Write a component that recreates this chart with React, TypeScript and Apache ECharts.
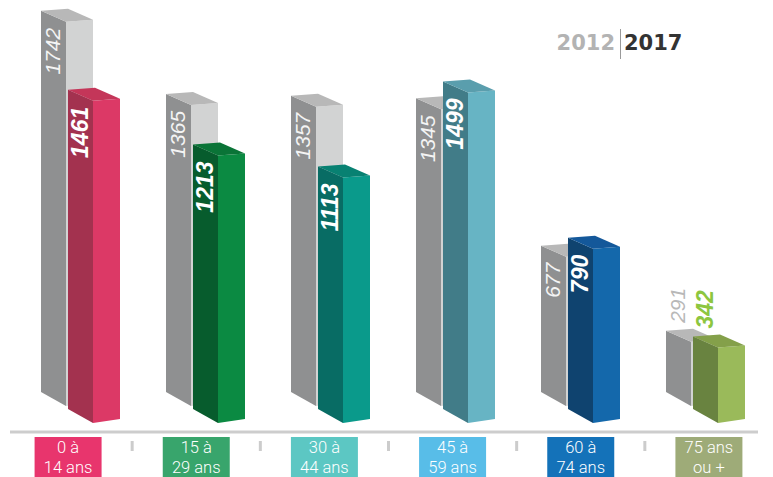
import React, { useEffect, useRef } from "react";
import * as echarts from "echarts";

const categories = ["0 à\n14 ans", "15 à\n29 ans", "30 à\n44 ans", "45 à\n59 ans", "60 à\n74 ans", "75 ans\nou +"];
const values2012 = [1742, 1365, 1357, 1345, 677, 291];
const values2017 = [1461, 1213, 1113, 1499, 790, 342];
const years = ["2012", "2017"];
const boxColors = ["#e8356d", "#38a56c", "#5cc7c3", "#58bde8", "#1472b9", "#9eab78"];
const faceLeft = ["#a3324f", "#075c2d", "#086c64", "#417c88", "#0f436f", "#698340"];
const faceRight = ["#dc3966", "#0b8a42", "#0a9a8b", "#67b4c4", "#1468ab", "#9aba5a"];
const faceTop = ["#c43659", "#0a7437", "#088172", "#5a9ead", "#14589a", "#84a04a"];
const outsideColor = ["#dc3966", "#0b8a42", "#0a9a8b", "#67b4c4", "#1468ab", "#8dc63f"];
const grayFaces = { left: "#8f9091", right: "#d2d3d3", top: "#b8b8b8" };

const W_L = 25, W_R = 27, D_LT = 11, D_LB = 14, D_RT = 2, D_RB = 4;

function prism(fx: number, yb: number, yt: number, left: string, right: string, top: string) {
  return [
    { type: "polygon", shape: { points: [[fx - W_L, yt - D_LT], [fx, yt], [fx, yb], [fx - W_L, yb - D_LB]] }, style: { fill: left } },
    { type: "polygon", shape: { points: [[fx, yt], [fx + W_R, yt - D_RT], [fx + W_R, yb - D_RB], [fx, yb]] }, style: { fill: right } },
    { type: "polygon", shape: { points: [[fx - W_L, yt - D_LT], [fx - W_L + W_R, yt - D_LT - D_RT], [fx + W_R, yt - D_RT], [fx, yt]] }, style: { fill: top } },
  ];
}

function valueLabel(fx: number, yb: number, yt: number, text: string, bold: boolean, insideColor: string, outColor: string) {
  const cxFace = fx - W_L / 2 - 1;
  const inside = yb - yt > 100;
  return {
    type: "text",
    x: cxFace,
    y: inside ? yt + 6 : yt - D_LT - 8,
    rotation: Math.PI / 2,
    style: {
      text,
      fill: inside ? insideColor : outColor,
      fontFamily: "Liberation Sans",
      fontStyle: "italic",
      fontWeight: bold ? "bold" : "normal",
      fontSize: bold ? 23 : 21,
      align: inside ? "right" : "left",
      verticalAlign: "middle",
    },
  };
}

export default function App() {
  const ref = useRef<HTMLDivElement>(null);
  useEffect(() => {
    if (!ref.current) return;
    const chart = echarts.init(ref.current, null, { renderer: "svg" });
    const barData = categories.map((_, i) => [i, values2012[i], values2017[i]]);
    const labelData = categories.map((_, i) => [i, 0]);
    chart.setOption({
      animation: false,
      grid: [
        { left: 17.5, width: 750, top: 26, bottom: 54 },
        { left: 4, width: 772, top: 437, height: 40 },
      ],
      xAxis: [
        { type: "category", data: categories, gridIndex: 0, show: false },
        { type: "category", data: categories, gridIndex: 1, show: false },
      ],
      yAxis: [
        { type: "value", min: 0, max: 1800, gridIndex: 0, show: false },
        { type: "value", min: 0, max: 1, gridIndex: 1, show: false },
      ],
      graphic: [
        { type: "line", shape: { x1: 10, y1: 432, x2: 758, y2: 432 }, style: { stroke: "#cdcdcd", lineWidth: 3 } },
        { type: "text", x: 615, y: 43, style: { text: years[0], fill: "#b3b3b3", fontFamily: "DejaVu Sans", fontWeight: "bold", fontSize: 21, align: "right", verticalAlign: "middle" } },
        { type: "line", shape: { x1: 620.5, y1: 29, x2: 620.5, y2: 59 }, style: { stroke: "#9a9a9a", lineWidth: 1 } },
        { type: "text", x: 624, y: 43, style: { text: years[1], fill: "#333333", fontFamily: "DejaVu Sans", fontWeight: "bold", fontSize: 21, align: "left", verticalAlign: "middle" } },
      ],
      series: [
        {
          type: "custom",
          xAxisIndex: 0,
          yAxisIndex: 0,
          data: barData,
          encode: { x: 0, y: [1, 2] },
          renderItem: (params: any, api: any) => {
            const i = api.value(0);
            const v12 = api.value(1);
            const v17 = api.value(2);
            const base = api.coord([i, 0]);
            const cx = base[0];
            const y0 = base[1];
            const t12 = api.coord([i, v12])[1];
            const t17 = api.coord([i, v17])[1];
            const gfx = cx - 14, gyb = y0 - 17, gyt = t12 - 17;
            const cfx = cx + 13;
            return {
              type: "group",
              children: [
                ...prism(gfx, gyb, gyt, grayFaces.left, grayFaces.right, grayFaces.top),
                ...prism(cfx, y0, t17, faceLeft[i], faceRight[i], faceTop[i]),
                valueLabel(gfx, gyb, gyt, String(v12), false, "#f4f4f4", "#b8b8b8"),
                valueLabel(cfx, y0, t17, String(v17), true, "#ffffff", outsideColor[i]),
              ],
            };
          },
        },
        {
          type: "custom",
          xAxisIndex: 1,
          yAxisIndex: 1,
          data: labelData,
          encode: { x: 0, y: 1 },
          renderItem: (params: any, api: any) => {
            const i = api.value(0);
            const c = api.coord([i, 0])[0];
            const band = api.size([1, 0])[0];
            const cs = params.coordSys;
            const lines = categories[i].split("\n");
            const children: any[] = [
              { type: "rect", shape: { x: c - 33.5, y: cs.y, width: 67, height: 40 }, style: { fill: boxColors[i] } },
            ];
            lines.forEach((ln, k) => {
              children.push({
                type: "text",
                x: c,
                y: cs.y + 10 + k * 20,
                style: {
                  text: ln,
                  fill: "#ffffff",
                  fontFamily: "Roboto",
                  fontWeight: 300,
                  fontSize: 16.5,
                  align: "center",
                  verticalAlign: "middle",
                },
              });
            });
            if (i > 0) {
              children.push({ type: "rect", shape: { x: c - band / 2 - 1.5, y: cs.y + 4, width: 3, height: 10 }, style: { fill: "#cccccc" } });
            }
            return { type: "group", children };
          },
        },
      ],
    });
    return () => chart.dispose();
  }, []);
  return <div ref={ref} style={{ position: "absolute", left: 0, top: 0, width: 773, height: 477 }} />;
}
